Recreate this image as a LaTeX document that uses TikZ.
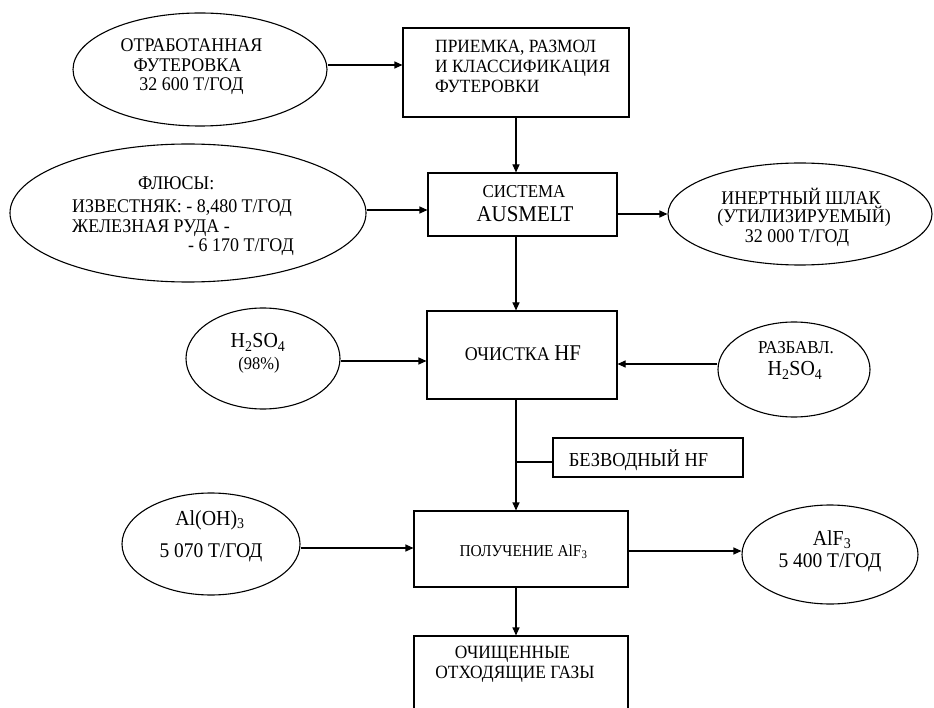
\documentclass[tikz,border=0pt]{standalone}
\usepackage{fontspec}
\setmainfont{Liberation Serif}[FakeStretch=0.93]
\usetikzlibrary{shapes.geometric,arrows.meta}
\newcommand{\chsub}[1]{\textsubscript{#1}}
\tikzset{
  box/.style={draw, line width=1.1pt, rectangle, inner sep=0pt},
  oval/.style={draw, line width=1.1pt, ellipse, inner sep=0pt},
  txt/.style={inner sep=0pt, font=\fontsize{19.3}{20}\selectfont},
  conn/.style={line width=1.1pt, -{Triangle[length=8pt,width=7pt]}},
  link/.style={line width=1.1pt}
}
\begin{document}
\begin{tikzpicture}[x=1pt,y=-1pt]
\clip (0,0) rectangle (934,708);
\fill[white] (0,0) rectangle (934,708);

% shapes
\node[oval, minimum width=254pt, minimum height=113pt] (e1) at (200,69.5) {};
\node[box, minimum width=226pt, minimum height=89pt] (box1) at (516,72.5) {};
\node[oval, minimum width=356pt, minimum height=138pt] (e2) at (188,213) {};
\node[box, minimum width=189pt, minimum height=63pt] (box2) at (522.5,204.5) {};
\node[oval, minimum width=264pt, minimum height=102pt] (e3) at (800,214) {};
\node[box, minimum width=190pt, minimum height=88pt] (box3) at (522,355) {};
\node[oval, minimum width=154pt, minimum height=101pt] (e4) at (263,358.5) {};
\node[oval, minimum width=152pt, minimum height=95pt] (e5) at (794,369.5) {};
\node[box, minimum width=190pt, minimum height=39pt] (hf) at (648,457.5) {};
\node[box, minimum width=214pt, minimum height=76pt] (box4) at (521,549) {};
\node[oval, minimum width=178pt, minimum height=102pt] (e6) at (211,544) {};
\node[oval, minimum width=176pt, minimum height=99pt] (e7) at (830,554.5) {};
\node[box, minimum width=214pt, minimum height=128pt] (box5) at (521,700) {};

% texts
\node[txt, anchor=base] (t1a) at (191.5,52) {ОТРАБОТАННАЯ};
\node[txt, anchor=base] (t1b) at (187.5,71.5) {ФУТЕРОВКА};
\node[txt, anchor=base] (t1c) at (191.5,90.5) {32 600 Т/ГОД};

\node[txt, anchor=base west, font=\fontsize{18.7}{20}\selectfont] (t2a) at (435,53) {ПРИЕМКА, РАЗМОЛ};
\node[txt, anchor=base west, font=\fontsize{18.7}{20}\selectfont] (t2b) at (435,73) {И КЛАССИФИКАЦИЯ};
\node[txt, anchor=base west, font=\fontsize{18.7}{20}\selectfont] (t2c) at (435,93) {ФУТЕРОВКИ};

\node[txt, anchor=base west] (t3a) at (138,190) {ФЛЮСЫ:};
\node[txt, anchor=base west] (t3b) at (72,213) {ИЗВЕСТНЯК: - 8,480 Т/ГОД};
\node[txt, anchor=base west] (t3c) at (72,233) {ЖЕЛЕЗНАЯ РУДА -};
\node[txt, anchor=base west] (t3d) at (188,252) {- 6 170 Т/ГОД};

\node[txt, anchor=base, font=\fontsize{18.2}{20}\selectfont] (t4a) at (524,198) {СИСТЕМА};
\node[txt, anchor=base, font=\fontsize{22.5}{24}\selectfont] (t4b) at (525,222) {AUSMELT};

\node[txt, anchor=base] (t5a) at (801,205) {ИНЕРТНЫЙ ШЛАК};
\node[txt, anchor=base] (t5b) at (804,223) {(УТИЛИЗИРУЕМЫЙ)};
\node[txt, anchor=base] (t5c) at (797,243) {32 000 Т/ГОД};

\node[txt, anchor=base, font=\fontsize{21.4}{22}\selectfont] (t6a) at (258,348) {H\chsub{2}SO\chsub{4}};
\node[txt, anchor=base, font=\fontsize{17.7}{20}\selectfont] (t6b) at (259,370) {(98\%)};

\node[txt, anchor=base, font=\fontsize{18.2}{20}\selectfont] (t7a) at (796,353) {РАЗБАВЛ.};
\node[txt, anchor=base, font=\fontsize{21.4}{22}\selectfont] (t7b) at (795,376) {H\chsub{2}SO\chsub{4}};

\node[txt, anchor=base] (t8) at (523,360) {{\fontsize{19.3}{20}\selectfont ОЧИСТКА} {\fontsize{22.5}{22}\selectfont HF}};

\node[txt, anchor=base, font=\fontsize{19.8}{20}\selectfont] (t9) at (638.5,466) {БЕЗВОДНЫЙ HF};

\node[txt, anchor=base, font=\fontsize{16.6}{18}\selectfont] (t10) at (523.5,556) {ПОЛУЧЕНИЕ AlF\chsub{3}};

\node[txt, anchor=base, font=\fontsize{18.7}{20}\selectfont] (t11a) at (512.5,658) {ОЧИЩЕННЫЕ};
\node[txt, anchor=base, font=\fontsize{18.7}{20}\selectfont] (t11b) at (515,678) {ОТХОДЯЩИЕ ГАЗЫ};

\node[txt, anchor=base, font=\fontsize{21.4}{22}\selectfont] (t12a) at (210,525) {Al(OH)\chsub{3}};
\node[txt, anchor=base, font=\fontsize{20.9}{22}\selectfont] (t12b) at (211,557) {5 070 Т/ГОД};

\node[txt, anchor=base, font=\fontsize{21.4}{22}\selectfont] (t13a) at (832,545) {AlF\chsub{3}};
\node[txt, anchor=base, font=\fontsize{20.9}{22}\selectfont] (t13b) at (830,567) {5 400 Т/ГОД};

% connectors
\draw[conn] ([yshift=4.5pt]e1.east) -- ([yshift=4.5pt]e1.east -| box1.west);
\draw[conn] (box1.south) -- (box1.south |- box2.north);
\draw[conn] ([yshift=3pt]e2.east) -- ([yshift=3pt]e2.east -| box2.west);
\draw[conn] (box2.east |- e3.west) -- (e3.west);
\draw[conn] (box1.south |- box2.south) -- (box1.south |- box3.north);
\draw[conn] ([yshift=-2.5pt]e4.east) -- ([yshift=-2.5pt]e4.east -| box3.west);
\draw[conn] ([yshift=5.5pt]e5.west) -- ([yshift=5.5pt]e5.west -| box3.east);
\draw[conn] (box1.south |- box3.south) -- (box1.south |- box4.north);
\draw[link] ([yshift=-4.5pt]hf.west) -- ([yshift=-4.5pt]hf.west -| box1.south);
\draw[conn] ([yshift=-4pt]e6.east) -- ([yshift=-4pt]e6.east -| box4.west);
\draw[conn] ([yshift=3.5pt]box4.east |- e7.west) -- ([yshift=3.5pt]e7.west);
\draw[conn] (box1.south |- box4.south) -- (box1.south |- box5.north);
\end{tikzpicture}
\end{document}
